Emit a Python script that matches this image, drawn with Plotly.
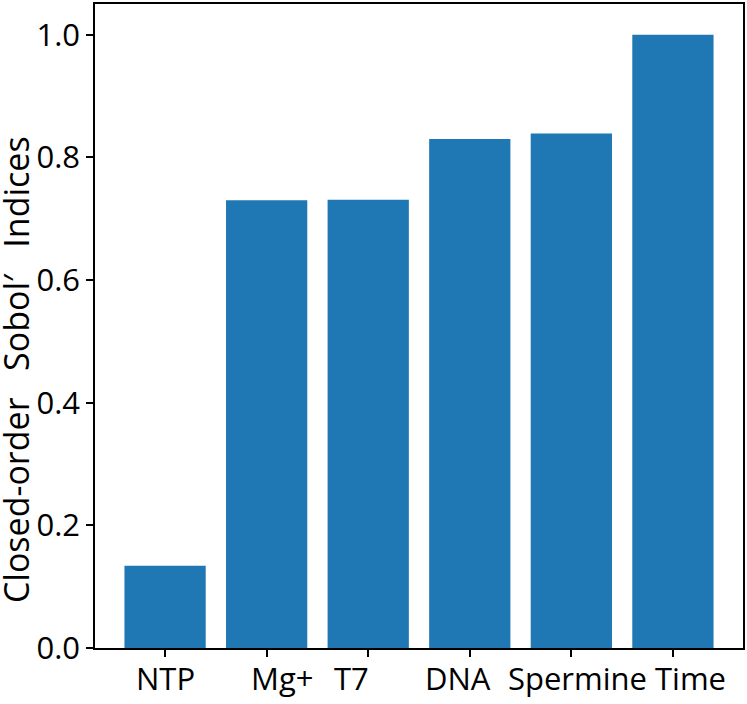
import plotly.graph_objects as go

categories = ["NTP", "Mg+", "T7", "DNA", "Spermine", "Time"]
values = [0.134, 0.730, 0.731, 0.830, 0.839, 1.0]
y_ticks = [0.0, 0.2, 0.4, 0.6, 0.8, 1.0]
y_tick_labels = ["0.0", "0.2", "0.4", "0.6", "0.8", "1.0"]
y_title = "Closed-order\u00a0\u00a0\u00a0Sobol′\u00a0\u00a0\u00a0Indices"
# horizontal nudges (px) of the category labels as placed in the original
label_shift_px = [0, 15, -17, -12, 6, 18]

FONT = "Open Sans"

fig = go.Figure(
    go.Bar(
        x=list(range(len(categories))),
        y=values,
        width=0.8,
        marker=dict(color="#1f77b4", line=dict(width=0)),
    )
)

fig.update_layout(
    width=747,
    height=704,
    margin=dict(l=95, r=4, t=4, b=56),
    paper_bgcolor="white",
    plot_bgcolor="white",
    showlegend=False,
    font=dict(family=FONT, color="black", size=31),
)

axis_common = dict(
    ticks="outside",
    ticklen=7,
    tickwidth=1.5,
    tickcolor="black",
    showline=True,
    linecolor="black",
    linewidth=1.5,
    mirror=True,
    showgrid=False,
    zeroline=False,
    automargin=False,
    tickfont=dict(family=FONT, size=31, color="black"),
)

fig.update_xaxes(
    range=[-0.69, 5.69],
    tickmode="array",
    tickvals=list(range(len(categories))),
    ticktext=[""] * len(categories),
    tickangle=0,
    **axis_common,
)

fig.update_yaxes(
    range=[0, 1.05],
    tickmode="array",
    tickvals=y_ticks,
    ticktext=y_tick_labels,
    **axis_common,
)

for i, (cat, dx) in enumerate(zip(categories, label_shift_px)):
    fig.add_annotation(
        text=cat,
        xref="x",
        yref="paper",
        x=i,
        y=0,
        xanchor="center",
        yanchor="middle",
        xshift=dx,
        yshift=-30,
        showarrow=False,
        font=dict(family=FONT, size=31, color="black"),
    )

fig.add_annotation(
    text=y_title,
    xref="paper",
    yref="paper",
    x=-0.122,
    y=0.433,
    xanchor="center",
    yanchor="middle",
    textangle=-90,
    showarrow=False,
    font=dict(family=FONT, size=34, color="black"),
)

fig.write_html(
    "out.html",
    config={"displayModeBar": False},
    post_script="document.body.style.margin='0';document.body.style.overflow='hidden';",
)
